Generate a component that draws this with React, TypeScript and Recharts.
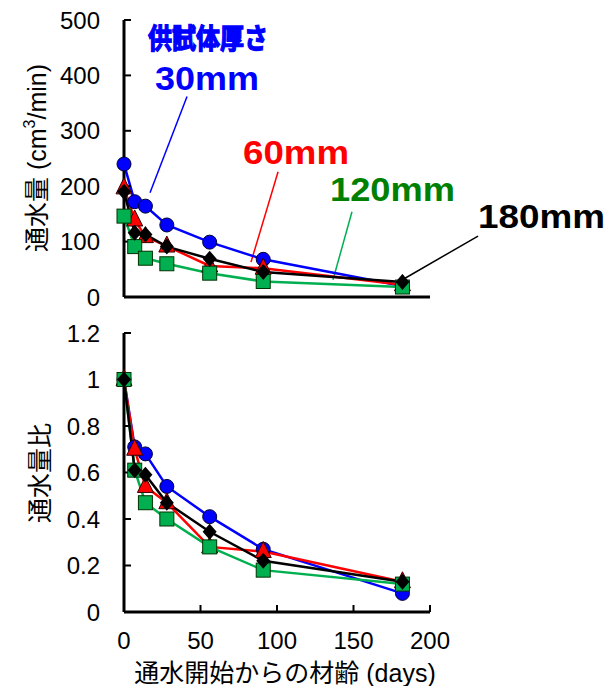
import React from 'react';
import { LineChart, Line, XAxis, YAxis, ReferenceLine } from 'recharts';

const days = [0, 7, 14, 28, 56, 91, 182];
const flow30 = [240, 172, 164, 130, 99, 68, 20];
const flow60 = [197, 139, 109, 92, 56, 52, 22];
const flow120 = [146, 91, 70, 60, 43, 28, 18];
const flow180 = [190, 116, 113, 91, 69, 45, 27];
const ratio30 = [1, 0.71, 0.68, 0.54, 0.41, 0.27, 0.08];
const ratio60 = [1, 0.7, 0.54, 0.47, 0.28, 0.26, 0.13];
const ratio120 = [1, 0.61, 0.47, 0.4, 0.28, 0.18, 0.12];
const ratio180 = [1, 0.61, 0.59, 0.47, 0.345, 0.22, 0.13];
const xTicks = [0, 50, 100, 150, 200];
const flowTicks = [0, 100, 200, 300, 400, 500];
const ratioTicks = [0, 0.2, 0.4, 0.6, 0.8, 1, 1.2];
const seriesNames = ['30mm', '60mm', '120mm', '180mm'];

const topData = days.map((d, i) => ({ d, a: flow30[i], b: flow60[i], c: flow120[i], e: flow180[i] }));
const botData = days.map((d, i) => ({ d, a: ratio30[i], b: ratio60[i], c: ratio120[i], e: ratio180[i] }));

const FONT = '"Liberation Sans", Arial, "Noto Sans CJK JP", sans-serif';
const CJK = '"Noto Sans CJK JP", "Liberation Sans", sans-serif';
const BLUE = '#0000FF';
const RED = '#FF0000';
const GREEN = '#00B050';
const BLACK = '#000000';

const CircleDot = (p: any) => {
  if (p.cx == null || p.cy == null) return null;
  return <circle key={p.key} cx={p.cx} cy={p.cy} r={7} fill={BLUE} stroke="#000033" strokeWidth={1} />;
};
const TriDot = (p: any) => {
  if (p.cx == null || p.cy == null) return null;
  const { cx, cy } = p;
  return (
    <polygon key={p.key} points={`${cx},${cy - 10} ${cx - 8},${cy + 6} ${cx + 8},${cy + 6}`} fill={RED} stroke="#330000" strokeWidth={1} />
  );
};
const SqDot = (p: any) => {
  if (p.cx == null || p.cy == null) return null;
  return <rect key={p.key} x={p.cx - 7} y={p.cy - 7} width={14} height={14} fill={GREEN} stroke="#003300" strokeWidth={1} />;
};
const DiaDot = (p: any) => {
  if (p.cx == null || p.cy == null) return null;
  const { cx, cy } = p;
  return <polygon key={p.key} points={`${cx},${cy - 8} ${cx + 7},${cy} ${cx},${cy + 8} ${cx - 7},${cy}`} fill={BLACK} />;
};

const tickStyle = { fontSize: 24, fill: '#000', fontFamily: FONT };

function Series() {
  return [
    <Line key="a" type="linear" dataKey="a" name={seriesNames[0]} stroke={BLUE} strokeWidth={2.5} dot={CircleDot} isAnimationActive={false} />,
    <Line key="b" type="linear" dataKey="b" name={seriesNames[1]} stroke={RED} strokeWidth={2.5} dot={TriDot} isAnimationActive={false} />,
    <Line key="c" type="linear" dataKey="c" name={seriesNames[2]} stroke={GREEN} strokeWidth={2.5} dot={SqDot} isAnimationActive={false} />,
    <Line key="e" type="linear" dataKey="e" name={seriesNames[3]} stroke={BLACK} strokeWidth={2.5} dot={DiaDot} isAnimationActive={false} />,
  ];
}

export default function App() {
  return (
    <div style={{ position: 'absolute', left: 0, top: 0, width: 613, height: 686, background: '#fff', fontFamily: FONT }}>
      <div style={{ position: 'absolute', left: 0, top: 0 }}>
        <LineChart width={613} height={312} data={topData} margin={{ top: 20, right: 183, bottom: 0, left: 0 }}>
          <XAxis dataKey="d" type="number" domain={[0, 200]} ticks={xTicks} height={15} tick={false}
            tickSize={-7} axisLine={{ stroke: '#000', strokeWidth: 3 }} tickLine={{ stroke: '#000', strokeWidth: 2 }} />
          <YAxis type="number" domain={[0, 500]} ticks={flowTicks} interval={0} width={124} tick={tickStyle}
            tickSize={-7} tickMargin={31} axisLine={{ stroke: '#000', strokeWidth: 3 }} tickLine={{ stroke: '#000', strokeWidth: 2 }} />
          <ReferenceLine segment={[{ x: 41.2, y: 362 }, { x: 17, y: 188 }]} stroke={BLUE} strokeWidth={1.5} ifOverflow="visible" />
          <ReferenceLine segment={[{ x: 100.7, y: 226 }, { x: 83, y: 63 }]} stroke={RED} strokeWidth={1.5} ifOverflow="visible" />
          <ReferenceLine segment={[{ x: 149, y: 154 }, { x: 136.6, y: 31 }]} stroke={GREEN} strokeWidth={1.5} ifOverflow="visible" />
          <ReferenceLine segment={[{ x: 231.4, y: 110 }, { x: 180, y: 28 }]} stroke={BLACK} strokeWidth={1.5} ifOverflow="visible" />
          {Series()}
        </LineChart>
      </div>
      <div style={{ position: 'absolute', left: 0, top: 313 }}>
        <LineChart width={613} height={359} data={botData} margin={{ top: 20, right: 183, bottom: 0, left: 0 }}>
          <XAxis dataKey="d" type="number" domain={[0, 200]} ticks={xTicks} interval={0} height={60} tick={tickStyle}
            tickSize={-7} tickMargin={27} axisLine={{ stroke: '#000', strokeWidth: 3 }} tickLine={{ stroke: '#000', strokeWidth: 2 }} />
          <YAxis type="number" domain={[0, 1.2]} ticks={ratioTicks} interval={0} width={124} tick={tickStyle}
            tickSize={-7} tickMargin={31} axisLine={{ stroke: '#000', strokeWidth: 3 }} tickLine={{ stroke: '#000', strokeWidth: 2 }} />
          {Series()}
        </LineChart>
      </div>
      <svg width={613} height={686} style={{ position: 'absolute', left: 0, top: 0, pointerEvents: 'none' }}>
        <text x={148} y={49} fontSize={28} fontWeight={700} fill={BLUE} stroke={BLUE} strokeWidth={1.3} fontFamily={CJK} textLength={120} lengthAdjust="spacingAndGlyphs">供試体厚さ</text>
        <text x={155} y={90} fontSize={33} fontWeight="bold" fill={BLUE} fontFamily={FONT} textLength={104} lengthAdjust="spacingAndGlyphs">30mm</text>
        <text x={243} y={164} fontSize={34} fontWeight="bold" fill={RED} fontFamily={FONT} textLength={106} lengthAdjust="spacingAndGlyphs">60mm</text>
        <text x={330} y={201} fontSize={34} fontWeight="bold" fill="#008000" fontFamily={FONT} textLength={125} lengthAdjust="spacingAndGlyphs">120mm</text>
        <text x={478} y={228} fontSize={34} fontWeight="bold" fill="#000" fontFamily={FONT} textLength={127} lengthAdjust="spacingAndGlyphs">180mm</text>
        <text transform="translate(37,158) rotate(-90)" textAnchor="middle" dominantBaseline="central" fontSize={25} fill="#000" fontFamily={FONT}>
          通水量 (cm<tspan dy={-8} fontSize={16}>3</tspan><tspan dy={8}>/min)</tspan>
        </text>
        <text transform="translate(40,473) rotate(-90)" textAnchor="middle" dominantBaseline="central" fontSize={25} fill="#000" fontFamily={FONT}>通水量比</text>
        <text x={285} y={673} textAnchor="middle" dominantBaseline="central" fontSize={25} fill="#000" fontFamily={FONT}>通水開始からの材齢 (days)</text>
      </svg>
    </div>
  );
}
